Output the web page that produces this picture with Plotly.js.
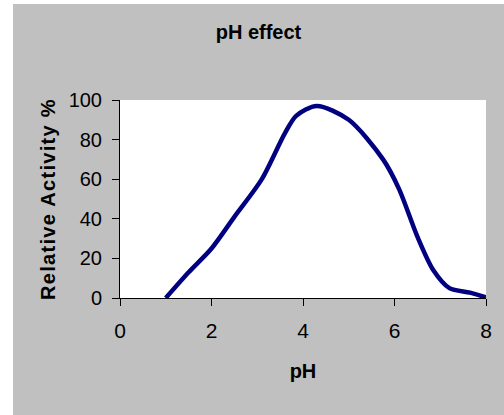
<!DOCTYPE html>
<html>
<head>
<meta charset="utf-8">
<script src="https://cdn.plot.ly/plotly-3.0.1.min.js"></script>
<style>
  html, body { margin: 0; padding: 0; background: #ffffff; }
  #chart { position: absolute; left: 13px; top: 4px; width: 491px; height: 411px; }
  #chart .g-ytitle text { letter-spacing: 1.3px; }
</style>
</head>
<body>
<div id="chart"></div>
<script>
const phValues = [1, 1.5, 2, 2.5, 3.1, 3.6, 3.85, 4.3, 5, 5.75, 6.1, 6.5, 6.85, 7.2, 7.65, 8];
const activity = [0, 13, 25, 41, 60, 83, 92, 97, 90, 70, 55, 31, 14, 5, 2.7, 0.3];
const xTicks = [0, 2, 4, 6, 8];
const yTicks = [0, 20, 40, 60, 80, 100];

const trace = {
  x: phValues,
  y: activity,
  type: 'scatter',
  mode: 'lines',
  line: { color: '#000080', width: 4.5, shape: 'spline', smoothing: 0.8 },
  hoverinfo: 'skip'
};

const fontFam = 'Arial, "Liberation Sans", sans-serif';

const layout = {
  width: 491,
  height: 411,
  paper_bgcolor: '#c0c0c0',
  plot_bgcolor: '#ffffff',
  margin: { l: 107, r: 18, t: 96, b: 117 },
  showlegend: false,
  font: { family: fontFam, color: '#000000', size: 20 },
  title: {
    text: '<b>pH effect</b>',
    font: { family: fontFam, size: 20, color: '#000000' },
    x: 0.5, xref: 'container', xanchor: 'center',
    y: 0.932, yref: 'container', yanchor: 'middle'
  },
  xaxis: {
    range: [0, 8],
    tickvals: xTicks,
    ticktext: xTicks.map(String),
    ticks: 'outside', ticklen: 7, tickcolor: '#000000', tickwidth: 1,
    showline: true, linecolor: '#000000', linewidth: 1,
    showgrid: false, zeroline: false,
    tickfont: { family: fontFam, size: 21, color: '#000000' },
    ticklabelstandoff: 7,
    title: { text: '<b>pH</b>', font: { family: fontFam, size: 20, color: '#000000' }, standoff: 22 },
    fixedrange: true
  },
  yaxis: {
    range: [0, 100],
    tickvals: yTicks,
    ticktext: yTicks.map(String),
    ticks: 'outside', ticklen: 7, tickcolor: '#000000', tickwidth: 1,
    showline: true, linecolor: '#000000', linewidth: 1,
    showgrid: false, zeroline: false,
    tickfont: { family: fontFam, size: 20, color: '#000000' },
    ticklabelstandoff: 6,
    title: { text: '<b>Relative Activity %</b>', font: { family: fontFam, size: 20, color: '#000000' }, standoff: 7 },
    fixedrange: true
  }
};

Plotly.newPlot('chart', [trace], layout, { displayModeBar: false, staticPlot: true });
</script>
</body>
</html>
